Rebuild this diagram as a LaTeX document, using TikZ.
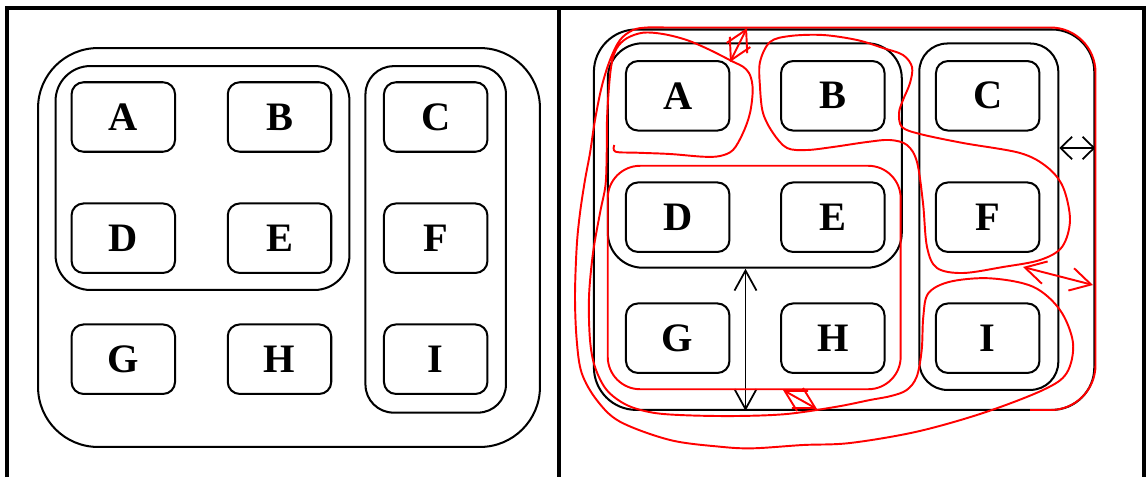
\documentclass[tikz,border=0pt]{standalone}
\usepackage{fontspec}
\setmainfont{Liberation Serif}
\usetikzlibrary{arrows.meta}

\tikzset{
	cell/.style={draw,line width=1.15pt,rounded corners=0.24cm,inner sep=0pt,
		minimum width=2.07cm,minimum height=1.39cm,
		font=\fontsize{23}{26}\selectfont\bfseries},
	grp/.style={draw,line width=1.15pt,inner sep=0pt},
	redgrp/.style={draw=red,line width=1.1pt,inner sep=0pt},
	frame/.style={line width=1.8pt},
	scribble/.style={red,line width=1.1pt,line join=round},
	gap/.style={<->,line width=1pt,>={Straight Barb[length=0.4cm,width=0.44cm]}},
	redgap/.style={<->,red,line width=1.1pt,>={Straight Barb[length=0.41cm,width=0.46cm]}}
}

\begin{document}
\begin{tikzpicture}[x=0.02cm,y=-0.02cm]
	\useasboundingbox (0,0) rectangle (1146,477);
	% table frame
	\draw[frame] (7,477)--(7,8)--(1144,8)--(1144,477);
	\draw[frame] (559,8)--(559,477);

	% left: the plain grouping
	\node[grp,rounded corners=1.2cm,minimum width=10.04cm,minimum height=7.98cm] (lOut) at (289,247.5) {};
	\node[grp,rounded corners=0.7cm,minimum width=5.88cm,minimum height=4.48cm] (lABDE) at (202.5,178) {};
	\node[grp,rounded corners=0.56cm,minimum width=2.81cm,minimum height=6.93cm] (lCFI) at (435.7,239.4) {};
	\node[cell] (lA) at (123.3,117) {A};
	\node[cell] (lB) at (279.5,117) {B};
	\node[cell] (lC) at (435.7,117) {C};
	\node[cell] (lD) at (123.3,238.2) {D};
	\node[cell] (lE) at (279.5,238.2) {E};
	\node[cell] (lF) at (435.7,238.2) {F};
	\node[cell] (lG) at (123.3,359.2) {G};
	\node[cell] (lH) at (279.5,359.2) {H};
	\node[cell] (lI) at (435.7,359.2) {I};

	% right: same grouping, marked up
	\node[grp,rounded corners=0.85cm,minimum width=10.01cm,minimum height=7.61cm] (rOut) at (844.1,219.7) {};
	\node[grp,rounded corners=0.7cm,minimum width=5.88cm,minimum height=4.49cm] (rABDE) at (754.8,155.5) {};
	\node[grp,rounded corners=0.56cm,minimum width=2.78cm,minimum height=6.93cm] (rCFI) at (988.8,216.7) {};
	\node[cell] (rA) at (677.7,95.8) {A};
	\node[cell] (rB) at (832.8,95.8) {B};
	\node[cell] (rC) at (987.7,95.8) {C};
	\node[cell] (rD) at (677.7,217.2) {D};
	\node[cell] (rE) at (832.8,217.2) {E};
	\node[cell] (rF) at (987.7,217.2) {F};
	\node[cell] (rG) at (677.7,338.2) {G};
	\node[cell] (rH) at (832.8,338.2) {H};
	\node[cell] (rI) at (987.7,338.2) {I};

	% spacing arrows
	\coordinate (vx) at (745.5,0);
	\coordinate (hy) at (0,148);
	\draw[gap] (rABDE.south -| vx)--(rOut.south -| vx);
	\draw[gap,>={Straight Barb[length=0.23cm,width=0.45cm]}] (rCFI.east |- hy)--(rOut.east |- hy);

	% red markup
	\node[redgrp,rounded corners=0.65cm,minimum width=5.86cm,minimum height=4.47cm] (rDEGH) at (754.2,277.5) {};
	\draw[scribble] plot[smooth,tension=0.55] coordinates {
		(614.3,145) (615.5,151.7) (636.7,152.7) (670,154) (703,156.7) (720,156)
		(733,150) (743,133) (750,113) (752.7,90) (750,75) (743,66.7) (733,61.7)
		(710,50) (686.7,40) (663,34) (643,32.7) (626.7,38.3) (616.7,48.3)
		(611.7,63.3) (609,86.7) (607,120) (606.7,153) (605.5,185) (600,213)
		(593,253) (589,297) (590,340) (595,367) (606.7,390) (626.7,405)
		(653,412.7) (686.7,415.3) (736.7,416) (786.7,414) (836.7,406.7) (870,400)
		(891,396) (906.7,390) (916.7,376.7) (921.7,350) (923.3,316.7) (928.3,293.3)
		(950,281.7) (990,278.3) (1033,286.7) (1060,310) (1073,343) (1066.7,373)
		(1043,390) (983,413) (916.7,431.7) (850,443) (803,445) (753,448.3)
		(720,446.7) (670,440) (620,421.7) (596.7,400) (581.7,373) (576.7,340)
		(575,296.7) (576.7,246.7) (580,213) (585,180) (590,153) (595,120)
		(601.7,86.7) (610,60) (620,40) (633,30) (647,27.5) (665,27.5)}
		[rounded corners=0.9cm] --(1095.5,27.5)--(1095.5,410)--(1030,410);
	\draw[scribble] plot[smooth cycle,tension=0.55] coordinates {
		(787,148) (773,133) (763,113) (760,87) (760,62) (770,42) (790,36)
		(823,35) (857,40) (883,48) (903,55) (912,67) (910,83) (903,100)
		(899,113) (902,127) (920,134) (963,143) (1020,153) (1047,167)
		(1063,187) (1070,220) (1062,247) (1040,260) (1003,267) (963,273)
		(937,268) (927,247) (923,203) (917,162) (907,145) (890,140)
		(867,142) (833,147) (807,150)};
	\coordinate (t1) at (747,28);
	\coordinate (t2) at (730,62);
	\coordinate (b1) at (783,390);
	\coordinate (b2) at (817,409);
	\coordinate (s1) at (1023,267);
	\coordinate (s2) at (1093,285);
	\draw[redgap] (t1)--(t2);
	\draw[redgap] (b1)--(b2);
	\draw[redgap] (s1)--(s2);
\end{tikzpicture}
\end{document}
